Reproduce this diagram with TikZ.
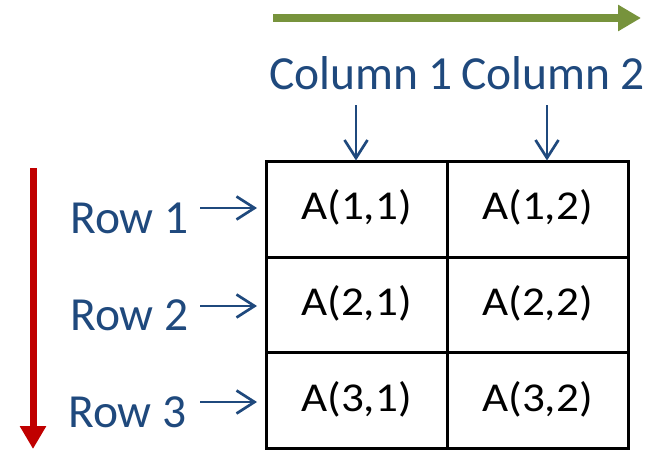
\documentclass[tikz,border=0pt]{standalone}
\usepackage{fontspec}
\usepackage{graphicx}
\setmainfont{Carlito}
\usetikzlibrary{arrows.meta}
\definecolor{txtblue}{RGB}{31,73,125}
\definecolor{olivegreen}{RGB}{119,147,60}
\definecolor{darkred}{RGB}{192,0,0}
\tikzset{
  cell/.style={draw=black, line width=3pt, minimum width=181pt, minimum height=95.5pt, inner sep=0pt,
    font=\fontsize{41}{42}\selectfont},
  lbl/.style={text=txtblue, font=\fontsize{47.5}{50}\selectfont},
  blarrow/.style={draw=txtblue, line width=2.7pt, -{Straight Barb[length=18pt,width=23pt]}},
  bigarrow/.style={line width=8pt, -{Triangle[length=23pt,width=25pt]}},
}
\newcommand{\cellt}[1]{\raisebox{9pt}{\scalebox{1.1}[1]{#1}}}
\begin{document}
\begin{tikzpicture}[x=1pt,y=-1pt]
\useasboundingbox (0,0) rectangle (650,450);
% table
\node[cell] (c11) at (356.5,209.5) {\cellt{A(1,1)}};
\node[cell] (c12) at (537.5,209.5) {\cellt{A(1,2)}};
\node[cell] (c21) at (356.5,305) {\cellt{A(2,1)}};
\node[cell] (c22) at (537.5,305) {\cellt{A(2,2)}};
\node[cell] (c31) at (356.5,400.5) {\cellt{A(3,1)}};
\node[cell] (c32) at (537.5,400.5) {\cellt{A(3,2)}};
% column labels
\node[lbl, anchor=base] (col1) at (361,89) {Column 1};
\node[lbl, anchor=base] (col2) at (553,89) {Column 2};
\coordinate (t1) at (356,160.5);
\coordinate (t2) at (547,160.5);
\draw[blarrow] ([yshift=-16pt]col1.base -| t1) -- (t1);
\draw[blarrow] ([yshift=-16pt]col2.base -| t2) -- (t2);
% row labels
\node[lbl, anchor=base west, inner sep=0pt] (row1) at (70,233) {Row 1};
\node[lbl, anchor=base west, inner sep=0pt] (row2) at (70,330) {Row 2};
\node[lbl, anchor=base west, inner sep=0pt] (row3) at (68,427) {Row 3};
\draw[blarrow] ([xshift=-64.5pt,yshift=1.5pt]c11.west) -- ([xshift=-7.5pt,yshift=1.5pt]c11.west);
\draw[blarrow] ([xshift=-64.5pt,yshift=-1pt]c21.west) -- ([xshift=-7.5pt,yshift=-1pt]c21.west);
\draw[blarrow] ([xshift=-64.5pt,yshift=-1.5pt]c31.west) -- ([xshift=-7.5pt,yshift=-1.5pt]c31.west);
% direction arrows
\coordinate (gs) at (273,18);
\coordinate (ge) at (641,18);
\draw[bigarrow, olivegreen] (gs) -- (ge);
\coordinate (rs) at (33,168);
\coordinate (re) at (33,449);
\draw[bigarrow, darkred, line width=7pt] (rs) -- (re);
\end{tikzpicture}
\end{document}
